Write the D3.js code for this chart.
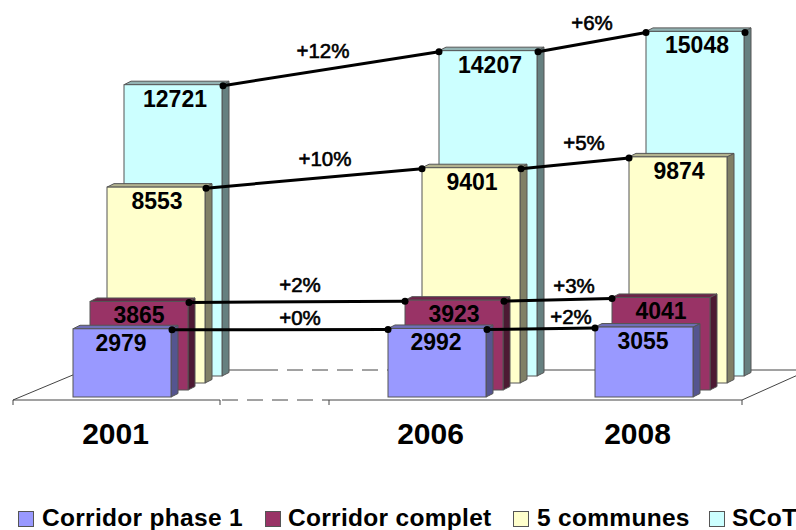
<!DOCTYPE html>
<html lang='en'>
<head>
  <meta charset="utf-8">
  <title>Corridor chart</title>
  <script src="https://cdn.jsdelivr.net/npm/d3@7"></script>
  <style>
    body { margin: 0; background: #fff; }
    text { font-family: "Liberation Sans", Arial, sans-serif; fill: #000; }
  </style>
</head>
<body>
  <script>
    // the data
    const years = ["2001", "2006", "2008"];
    const seriesNames = ["Corridor phase 1", "Corridor complet", "5 communes", "SCoT"];
    const phase1 = [2979, 2992, 3055];
    const complet = [3865, 3923, 4041];
    const communes = [8553, 9401, 9874];
    const scot = [12721, 14207, 15048];
    const phase1Growth = ["+0%", "+2%"];
    const completGrowth = ["+2%", "+3%"];
    const communesGrowth = ["+10%", "+5%"];
    const scotGrowth = ["+12%", "+6%"];

    const seriesValues = [phase1, complet, communes, scot];
    const seriesGrowth = [phase1Growth, completGrowth, communesGrowth, scotGrowth];

    const width = 796, height = 530;
    const barWidth = 98, sideX = 7, sideY = 3.5;

    const colors = ["#9999ff", "#993366", "#ffffcc", "#ccffff"];
    const sideColors = ["#55558f", "#4d1a33", "#808066", "#668080"];
    const topColors = ["#6f6fb8", "#6e2449", "#b3b38f", "#93b3b3"];

    let svg = d3.select("body").append("svg")
      .attr("width", width)
      .attr("height", height)
      .style("display", "block");

    // the scales
    let bandX = d3.scaleOrdinal().domain(years).range([13, 328, 535]);
    let bandWidth = 207;
    let depthX = d3.scaleLinear().domain([0, 3]).range([0, 51]);
    let depthY = d3.scaleLinear().domain([0, 3]).range([0, 21]);
    let yScale = d3.scaleLinear().domain([0, 16000]).range([397, 30.6]);

    let barLeft = (s, i) => bandX(years[i]) + 60 + depthX(s);
    let barTop = (s, i) => yScale(seriesValues[s][i]) - depthY(s);
    let barBottom = s => yScale(0) - depthY(s);

    // floor of the 3d chart
    let floor = svg.append("g")
      .attr("fill", "none")
      .attr("stroke", "#444")
      .attr("stroke-width", 1);
    floor.append("path").attr("d", "M13,405V400H220V405M329,405V400H742V405");
    floor.append("path").attr("d", "M13,400L80,372M742,400L809,370");
    floor.append("path").attr("d", "M80,370H262M396,370H809");
    floor.append("path").attr("d", "M222,400H329M262,370H396").attr("stroke-dasharray", "16 9");

    // bars, the back series first
    let order = d3.range(seriesNames.length).reverse();
    order.forEach(s => {
      let group = svg.append("g").attr("stroke", "#555").attr("stroke-width", 1);
      years.forEach((year, i) => {
        let x = barLeft(s, i), top = barTop(s, i), bottom = barBottom(s);
        group.append("path")
          .attr("fill", sideColors[s])
          .attr("d", d3.line()([[x + barWidth, top], [x + barWidth + sideX, top - sideY],
            [x + barWidth + sideX, bottom - sideY], [x + barWidth, bottom]]) + "Z");
        group.append("path")
          .attr("fill", topColors[s])
          .attr("d", d3.line()([[x, top], [x + sideX, top - sideY],
            [x + barWidth + sideX, top - sideY], [x + barWidth, top]]) + "Z");
        group.append("rect")
          .attr("x", x)
          .attr("y", top)
          .attr("width", barWidth)
          .attr("height", bottom - top)
          .attr("fill", colors[s]);
      });
    });

    // growth lines, one per series and pair of years
    let labelOffsets = [[20, -5], [3, -10], [11, -12], [-8, -11]];
    let labelOffsets2 = [[30, -5], [16, -7], [9, -13], [0, -12]];
    seriesValues.forEach((values, s) => {
      d3.pairs(d3.range(years.length)).forEach(([a, b], p) => {
        let start = [barLeft(s, a) + barWidth + 1, barTop(s, a) + 1];
        let end = [barLeft(s, b), barTop(s, b) + 1];
        svg.append("path")
          .attr("d", d3.line()([start, end]))
          .attr("stroke", "#000")
          .attr("stroke-width", 3)
          .attr("fill", "none");
        svg.selectAll(null).data([start, end]).join("circle")
          .attr("cx", d => d[0])
          .attr("cy", d => d[1])
          .attr("r", 3.5)
          .attr("fill", "#000");
        let off = (p === 0 ? labelOffsets : labelOffsets2)[s];
        svg.append("text").text(seriesGrowth[s][p])
          .attr("x", (start[0] + end[0]) / 2 + off[0])
          .attr("y", (start[1] + end[1]) / 2 + off[1])
          .attr("text-anchor", "middle")
          .attr("font-size", 20.5)
          .style("stroke", "#000")
          .style("stroke-width", 0.6);
      });
    });
    // last dot on the top series
    svg.append("circle")
      .attr("cx", barLeft(3, 2) + barWidth + 1)
      .attr("cy", barTop(3, 2) + 1)
      .attr("r", 3.5)
      .attr("fill", "#000");

    // value labels
    seriesValues.forEach((values, s) => {
      svg.selectAll(null).data(values).join("text")
        .text(d => d)
        .attr("x", (d, i) => barLeft(s, i) + barWidth / 2 - 1 + s)
        .attr("y", (d, i) => barTop(s, i) + 22)
        .attr("text-anchor", "middle")
        .attr("font-size", 23)
        .attr("font-weight", "bold");
    });

    // year labels
    let xAxis = d3.axisBottom(d3.scaleOrdinal().domain(years).range(years.map(y => bandX(y) + bandWidth / 2 - 1.5)))
      .tickSize(0);
    let xAxisG = svg.append("g").attr("transform", "translate(0, 400)").call(xAxis);
    xAxisG.select(".domain").remove();
    xAxisG.selectAll("text")
      .attr("y", 44)
      .attr("dy", 0)
      .attr("font-family", "Liberation Sans")
      .attr("font-size", 30)
      .attr("font-weight", "bold");

    // legend
    let legendSwatch = [18, 265, 513, 709];
    let legendText = [42, 288, 537, 732];
    seriesNames.forEach((name, s) => {
      svg.append("rect")
        .attr("x", legendSwatch[s] + 0.5)
        .attr("y", 511.5)
        .attr("width", 15)
        .attr("height", 15)
        .attr("fill", colors[s])
        .attr("stroke", "#555");
      svg.append("text").text(name)
        .attr("x", legendText[s])
        .attr("y", 526)
        .attr("font-size", 24.5)
        .attr("font-weight", "bold")
        .attr("letter-spacing", 0.3);
    });
  </script>
</body>
</html>
